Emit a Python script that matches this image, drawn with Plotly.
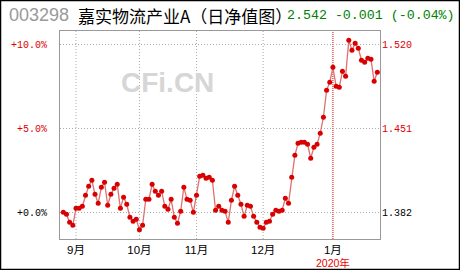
import plotly.graph_objects as go
import pandas as pd

# ---- data (unit NAV, daily) ----
nav = [1.3823, 1.3807, 1.3741, 1.3716, 1.3856, 1.3856, 1.3873, 1.3963, 1.4037, 1.4087,
       1.3971, 1.3897, 1.4029, 1.4070, 1.3881, 1.3971, 1.4021, 1.4054, 1.3856, 1.3947,
       1.3889, 1.3782, 1.3749, 1.3766, 1.3679, 1.3716, 1.3930, 1.3930, 1.4054, 1.3996,
       1.3963, 1.3996, 1.3873, 1.3848, 1.3930, 1.3782, 1.3733, 1.3831, 1.4029, 1.3930,
       1.3922, 1.3823, 1.3963, 1.4119, 1.4128, 1.4103, 1.4111, 1.4087, 1.3840, 1.3873,
       1.3840, 1.3831, 1.3741, 1.3922, 1.4037, 1.3963, 1.3889, 1.3790, 1.3881, 1.3873,
       1.3790, 1.3741, 1.3700, 1.3692, 1.3741, 1.3749, 1.3807, 1.3840, 1.3831, 1.3840,
       1.3938, 1.3897, 1.4111, 1.4292, 1.4391, 1.4399, 1.4399, 1.4383, 1.4268, 1.4358,
       1.4383, 1.4473, 1.4605, 1.4827, 1.4893, 1.5016, 1.4860, 1.4852, 1.4983, 1.4942,
       1.5238, 1.5156, 1.5213, 1.5172, 1.5074, 1.5057, 1.5090, 1.5082, 1.4901, 1.4975]
base_nav = 1.382
pct_levels = [0.0, 5.0, 10.0]
left_labels = ["+0.0%", "+5.0%", "+10.0%"]
right_labels = ["1.382", "1.451", "1.520"]
label_colors = ["#000000", "#dd0000", "#dd0000"]
month_names = {9: "9月", 10: "10月", 11: "11月", 12: "12月", 1: "1月"}
holidays = ["2019-09-13", "2019-10-01", "2019-10-02", "2019-10-03", "2019-10-04",
            "2019-10-07", "2020-01-01"]
title_code = "003298"
title_name = "嘉实物流产业A（日净值图）"
title_quote = "2.542 -0.001 (-0.04%)"
year_label = "2020年"
watermark = "CFi.CN"

# trading days
hol = set(pd.to_datetime(holidays))
dates = [d for d in pd.bdate_range("2019-08-27", "2020-01-22") if d not in hol]
dates = dates[:len(nav)]
x = list(range(len(nav)))

month_idx, month_txt = [], []
for i, d in enumerate(dates):
    if i > 0 and d.month != dates[i - 1].month:
        month_idx.append(i)
        month_txt.append(month_names[d.month])
jan_idx = month_idx[month_txt.index("1月")]

tick_vals = [base_nav * (1 + p / 100) for p in pct_levels]
left_txt = [f'<span style="color:{c}">{t}</span>' for t, c in zip(left_labels, label_colors)]
right_txt = [f'<span style="color:{c}">{t}</span>' for t, c in zip(right_labels, label_colors)]

# geometry
W, H = 460, 270
ML, MR, MT, MB = 60, 80, 31, 31
PW, PH = W - ML - MR, H - MT - MB

px_per_nav = 168 / (base_nav * 0.10)
y_lo = base_nav - 26.3 / px_per_nav
y_hi = base_nav + 181.7 / px_per_nav

fig = go.Figure()
fig.add_trace(go.Scatter(
    x=x, y=nav, mode="lines+markers",
    line=dict(color="#e07070", width=1.3),
    marker=dict(color="#d80000", size=5, symbol="circle"),
    hoverinfo="skip", showlegend=False))
fig.add_trace(go.Scatter(
    x=x, y=nav, yaxis="y2", mode="lines", opacity=0,
    hoverinfo="skip", showlegend=False))

grid_dash = "1px,2px"
for idx, txt in zip(month_idx, month_txt):
    red = (idx == jan_idx)
    fig.add_shape(type="line", xref="x", yref="paper", x0=idx, x1=idx, y0=0, y1=1,
                  line=dict(color="#dd0000" if red else "#aaaaaa", width=1,
                            dash="1px,1px" if red else grid_dash),
                  layer="below")

mono = "Liberation Mono, DejaVu Sans Mono, monospace"
cjk = "Liberation Sans, Noto Sans CJK SC, sans-serif"

fig.update_layout(
    width=W, height=H,
    margin=dict(l=ML, r=MR, t=MT, b=MB),
    paper_bgcolor="white", plot_bgcolor="white",
    xaxis=dict(range=[-1.04, len(nav) - 0.16], tickvals=month_idx, ticktext=month_txt,
               showgrid=False, zeroline=False, showline=True, mirror=True,
               linecolor="#999999", linewidth=1, ticks="", ticklabelstandoff=0,
               tickfont=dict(family=cjk, size=11.5, color="#000000")),
    yaxis=dict(range=[y_lo, y_hi], tickvals=tick_vals, ticktext=left_txt,
               showgrid=True, gridcolor="#aaaaaa", griddash=grid_dash, gridwidth=1,
               zeroline=False, showline=True, mirror=True, linecolor="#999999",
               linewidth=1, ticks="", ticklabelstandoff=10,
               tickfont=dict(family=mono, size=10, color="#000000")),
    yaxis2=dict(range=[y_lo, y_hi], overlaying="y", side="right", tickvals=tick_vals,
                ticktext=right_txt, showgrid=False, zeroline=False, showline=False,
                ticks="", ticklabelstandoff=1,
                tickfont=dict(family=mono, size=10, color="#000000")),
)

def px_x(v):
    return (v - ML) / PW

def px_y(v):
    return (H - MB - v) / PH

fig.add_annotation(text=f"<b>{watermark}</b>", xref="paper", yref="paper",
                   x=px_x(118.5), y=px_y(65), showarrow=False,
                   font=dict(family="Liberation Sans, Arial", size=28, color="#d6d6d6"))
fig.add_annotation(text=title_code, xref="paper", yref="paper", x=px_x(7), y=px_y(15),
                   xanchor="left", yanchor="middle", showarrow=False,
                   font=dict(family="Liberation Sans, Arial", size=18, color="#999999"))
fig.add_annotation(text=title_name, xref="paper", yref="paper", x=px_x(76), y=px_y(15),
                   xanchor="left", yanchor="middle", showarrow=False,
                   font=dict(family="Noto Sans CJK SC", size=17, color="#000000"))
fig.add_annotation(text=title_quote, xref="paper", yref="paper", x=px_x(285), y=px_y(15),
                   xanchor="left", yanchor="middle", showarrow=False,
                   font=dict(family=mono, size=13.3, color="#008000"))
fig.add_annotation(text=year_label, xref="x", yref="paper", x=jan_idx, y=px_y(270),
                   xanchor="center", yanchor="bottom", showarrow=False, borderpad=0,
                   font=dict(family=cjk, size=10.5, color="#ee0000"))
# outer frame
fig.add_shape(type="rect", xref="paper", yref="paper",
              x0=px_x(0.5), x1=px_x(459.5), y0=px_y(269.5), y1=px_y(0.5),
              line=dict(color="#000000", width=1.5), fillcolor="rgba(0,0,0,0)")

fig.write_html("out.html")
